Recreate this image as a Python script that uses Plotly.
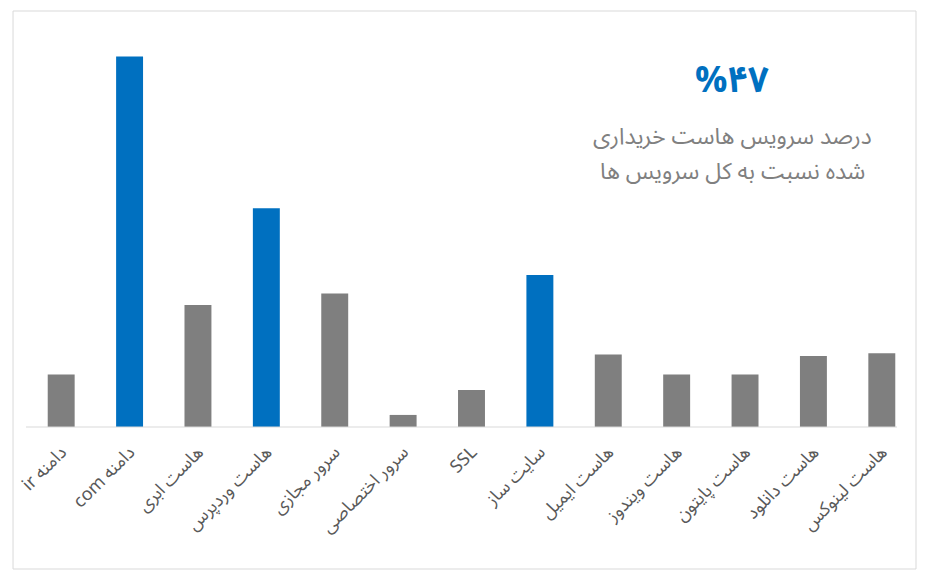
import plotly.graph_objects as go

categories = ["دامنه ir", "دامنه com", "هاست ابری", "هاست وردپرس", "سرور مجازی",
              "سرور اختصاصی", "SSL", "سایت ساز", "هاست ایمیل", "هاست ویندوز",
              "هاست پایتون", "هاست دانلود", "هاست لینوکس"]
values = [3.7, 26.1, 8.6, 15.4, 9.4, 0.85, 2.6, 10.7, 5.1, 3.7, 3.7, 5.0, 5.2]
highlight = [False, True, False, True, False, False, False, True, False, False, False, False, False]
headline = "%۴۷"
caption_lines = ["درصد سرویس هاست خریداری", "شده نسبت به کل سرویس ها"]

BLUE = "#0070C0"
GRAY = "#7F7F7F"
colors = [BLUE if h else GRAY for h in highlight]
labels = ["\u202b" + c + "\u202c" for c in categories]

W, H = 929, 583
L, R, T, B = 25, 13, 30, 156
pw, ph = W - L - R, H - T - B

def px(x):
    return (x - L) / pw

def py(y):
    return (H - B - y) / ph

fig = go.Figure(go.Bar(x=labels, y=values, marker=dict(color=colors, line=dict(width=0))))

fig.update_layout(
    width=W, height=H,
    margin=dict(l=L, r=R, t=T, b=B),
    paper_bgcolor="white", plot_bgcolor="white",
    bargap=0.606, showlegend=False,
    font=dict(family="Noto Sans Arabic, DejaVu Sans, sans-serif", color="#595959"),
    xaxis=dict(showline=False, tickangle=-45,
               tickfont=dict(size=18, color="#595959"), ticks="", showgrid=False,
               ticklabelstandoff=10),
    yaxis=dict(visible=False, range=[0, 27.96], showgrid=False, zeroline=False),
    shapes=[
        dict(type="rect", xref="paper", yref="paper",
             x0=px(11), x1=px(916), y0=py(569), y1=py(11),
             line=dict(color="#D9D9D9", width=1)),
        dict(type="line", xref="paper", yref="paper",
             x0=px(24), x1=px(897), y0=0, y1=0,
             line=dict(color="#D9D9D9", width=1)),
    ],
    annotations=[
        dict(text="<b>" + headline + "</b>", xref="paper", yref="paper", x=px(732), y=py(81),
             showarrow=False, font=dict(size=36, color=BLUE), xanchor="center", yanchor="middle"),
        dict(text=caption_lines[0], xref="paper", yref="paper", x=px(732), y=py(136),
             showarrow=False, font=dict(size=23, color="#808080"), xanchor="center", yanchor="middle",
             height=32),
        dict(text=caption_lines[1], xref="paper", yref="paper", x=px(732), y=py(171),
             showarrow=False, font=dict(size=23, color="#808080"), xanchor="center", yanchor="middle",
             height=32),
    ],
)

fig.write_html("out.html")
